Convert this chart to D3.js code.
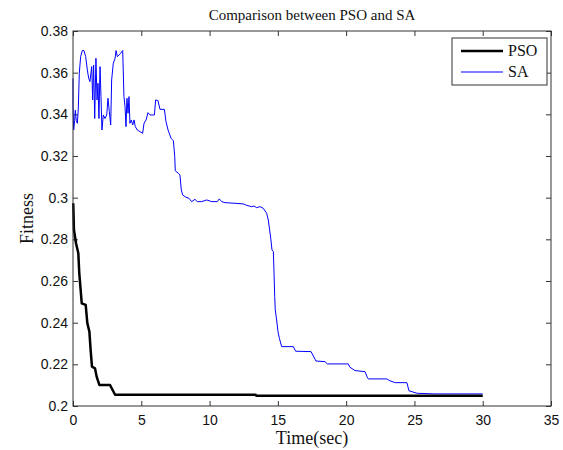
<!DOCTYPE html>
<html lang="en">
	<head>
		<meta charset="utf-8">
		<title>Comparison between PSO and SA</title>
		<script type="text/javascript" src="https://cdn.jsdelivr.net/npm/d3@7"></script>
		<style type="text/css">
			body{
				margin: 0;
				background: white;
			}
			.tickText text{
				font-family: "Liberation Sans", Arial, sans-serif;
				font-size: 14px;
				fill: #111;
			}
			.serif{
				font-family: "Liberation Serif", "Times New Roman", serif;
				fill: #111;
			}
		</style>
	</head>
	<body>
		<div class="chart"></div>
		<script type="text/javascript">

			var w = 563;
			var h = 450;

			// plot box in pixels (window.top is taken, so use own names)
			var padL = 73, padR = 551, padT = 31, padB = 406;

			var xTicks = [0, 5, 10, 15, 20, 25, 30, 35];
			var yTicks = [0.2, 0.22, 0.24, 0.26, 0.28, 0.3, 0.32, 0.34, 0.36, 0.38];

			var psoTime = [0.02, 0.07, 0.22, 0.39, 0.46, 0.56, 0.64, 0.93, 1.05, 1.2, 1.29, 1.39, 1.61, 1.73, 1.93, 2.71, 3.08, 13.38, 13.42, 30];
			var psoFit = [0.2973, 0.2845, 0.2781, 0.2733, 0.2637, 0.2557, 0.2493, 0.2485, 0.2397, 0.2357, 0.2269, 0.2189, 0.2181, 0.2141, 0.2101, 0.2101, 0.2054, 0.2054, 0.2049, 0.2049];

			var saTime = [0, 0, 0.05, 0.12, 0.17, 0.24, 0.32, 0.39, 0.46, 0.56,
				0.68, 0.8, 0.93, 1.05, 1.15, 1.24, 1.37, 1.44, 1.51, 1.59,
				1.68, 1.76, 1.83, 1.9, 1.98, 2.05, 2.12, 2.22, 2.34, 2.47,
				2.56, 2.66, 2.76, 2.83, 2.95, 3.08, 3.15, 3.25, 3.37, 3.49,
				3.64, 3.73, 3.81, 3.88, 3.95, 4.03, 4.1, 4.17, 4.27, 4.37,
				4.47, 4.56, 4.71, 4.9, 5.1, 5.2, 5.35, 5.49, 5.64, 5.96,
				6.05, 6.22, 6.37, 6.69, 6.81, 6.96, 7.18, 7.35, 7.45, 7.49,
				7.71, 7.83, 7.93, 8.03, 8.27, 8.49, 8.69, 8.93, 9.1, 9.42,
				9.79, 10.16, 10.57, 10.71, 10.89, 11.13, 11.86, 12.47, 12.72, 13.08,
				13.25, 13.45, 13.69, 13.93, 14.18, 14.3, 14.48, 14.57, 14.67, 14.72,
				14.77, 14.81, 14.91, 15.01, 15.11, 15.28, 16.13, 16.3, 17.43, 17.6,
				17.79, 18.45, 18.62, 20.16, 20.28, 20.65, 21.38, 21.55, 21.62, 22.97,
				23.2, 23.6, 24.45, 24.6, 25.2, 26.5, 30];
			var saFit = [0.3573, 0.3445, 0.3325, 0.337, 0.342, 0.337, 0.3357, 0.343, 0.3597, 0.3677,
				0.3706, 0.3706, 0.3677, 0.3613, 0.3573, 0.3557, 0.3629, 0.3469, 0.3637, 0.338,
				0.3669, 0.3469, 0.3549, 0.338, 0.3629, 0.3485, 0.3325, 0.3397, 0.338, 0.3397,
				0.3477, 0.3413, 0.3349, 0.3565, 0.3645, 0.3669, 0.3706, 0.3677, 0.3685, 0.3693,
				0.3706, 0.3485, 0.3437, 0.3341, 0.3477, 0.3405, 0.3485, 0.3357, 0.3373, 0.3349,
				0.3373, 0.3341, 0.3325, 0.3317, 0.3309, 0.3357, 0.3373, 0.3408, 0.3397, 0.3397,
				0.3469, 0.3466, 0.3424, 0.3424, 0.3365, 0.3325, 0.3285, 0.3273, 0.3197, 0.3129,
				0.3117, 0.3109, 0.3037, 0.3013, 0.3002, 0.2997, 0.2981, 0.2992, 0.2981, 0.2981,
				0.2989, 0.2981, 0.2981, 0.2994, 0.2981, 0.2976, 0.2973, 0.297, 0.2963, 0.2957,
				0.296, 0.2952, 0.2957, 0.2949, 0.2925, 0.2893, 0.2805, 0.2749, 0.2741, 0.2637,
				0.2525, 0.2461, 0.2413, 0.2357, 0.2325, 0.2285, 0.2285, 0.2263, 0.2261, 0.224,
				0.2216, 0.2213, 0.2202, 0.2202, 0.2186, 0.217, 0.2165, 0.2138, 0.213, 0.213,
				0.2121, 0.2112, 0.2112, 0.2073, 0.2061, 0.2058, 0.2058];

			var seriesNames = ["PSO", "SA"];
			var seriesColors = ["#000000", "#0000ff"];
			var seriesWidths = [2.5, 1];

			var svg = d3.select("div.chart")
						.append("svg")
						.attr("width", w)
						.attr("height", h);

			var xScale = d3.scaleLinear()
						.domain([0, 35])
						.range([padL, padR]);

			var yScale = d3.scaleLinear()
						.domain([0.2, 0.38])
						.range([padB, padT]);

			var fmt = function(d){ return String(+d.toFixed(2)); };

			// ticks point inwards on all four sides, like matlab
			var axes = [
				{ axis: d3.axisBottom(xScale).tickValues(xTicks).tickFormat(fmt), tr: "translate(0," + padB + ")", pad: 9 },
				{ axis: d3.axisTop(xScale).tickValues(xTicks).tickFormat(""), tr: "translate(0," + padT + ")", pad: 9 },
				{ axis: d3.axisLeft(yScale).tickValues(yTicks).tickFormat(fmt), tr: "translate(" + padL + ",0)", pad: 5 },
				{ axis: d3.axisRight(yScale).tickValues(yTicks).tickFormat(""), tr: "translate(" + padR + ",0)", pad: 5 }
			];

			axes.forEach(function(a){
				var g = svg.append("g")
					.attr("class", "tickText")
					.attr("transform", a.tr)
					.call(a.axis.tickSizeInner(-5).tickSizeOuter(0).tickPadding(a.pad));
				g.select(".domain").remove();
				g.selectAll(".tick line").attr("stroke", "#333");
			});

			svg.selectAll(".tickText .tick text").attr("fill", "#111");

			var line = d3.line()
						.x(function(d){ return xScale(d[0]); })
						.y(function(d){ return yScale(d[1]); });

			var saData = d3.zip(saTime, saFit);
			var psoData = d3.zip(psoTime, psoFit);

			svg.append("path")
				.datum(saData)
				.attr("d", line)
				.attr("fill", "none")
				.attr("stroke", seriesColors[1])
				.attr("stroke-width", seriesWidths[1])
				.attr("stroke-linejoin", "round");

			svg.append("path")
				.datum(psoData)
				.attr("d", line)
				.attr("fill", "none")
				.attr("stroke", seriesColors[0])
				.attr("stroke-width", seriesWidths[0])
				.attr("stroke-linejoin", "round");

			svg.append("rect")
				.attr("x", padL)
				.attr("y", padT)
				.attr("width", padR - padL)
				.attr("height", padB - padT)
				.attr("fill", "none")
				.attr("stroke", "#333")
				.attr("stroke-width", 1);

			svg.append("text")
				.attr("class", "serif")
				.attr("x", (padL + padR) / 2)
				.attr("y", 20)
				.attr("text-anchor", "middle")
				.style("font-size", "15px")
				.text("Comparison between PSO and SA");

			svg.append("text")
				.attr("class", "serif")
				.attr("x", (padL + padR) / 2)
				.attr("y", 444)
				.attr("text-anchor", "middle")
				.style("font-size", "18px")
				.text("Time(sec)");

			svg.append("text")
				.attr("class", "serif")
				.attr("transform", "translate(33," + ((padT + padB) / 2) + ") rotate(-90)")
				.attr("text-anchor", "middle")
				.style("font-size", "18px")
				.text("Fitness");

			// legend
			var legend = svg.append("g")
							.attr("transform", "translate(452,38)");

			legend.append("rect")
				.attr("width", 95)
				.attr("height", 47)
				.attr("fill", "white")
				.attr("stroke", "#333");

			var item = legend.selectAll("g.item")
						.data(seriesNames)
						.enter()
						.append("g")
						.attr("class", "item")
						.attr("transform", function(d, i){ return "translate(0," + (13 + i * 21) + ")"; });

			item.append("line")
				.attr("x1", 9)
				.attr("x2", 51)
				.attr("stroke", function(d, i){ return seriesColors[i]; })
				.attr("stroke-width", function(d, i){ return seriesWidths[i]; });

			item.append("text")
				.attr("class", "serif")
				.attr("x", 56)
				.attr("dy", "0.33em")
				.style("font-size", "16px")
				.text(function(d){ return d; });

		</script>
	</body>
</html>
